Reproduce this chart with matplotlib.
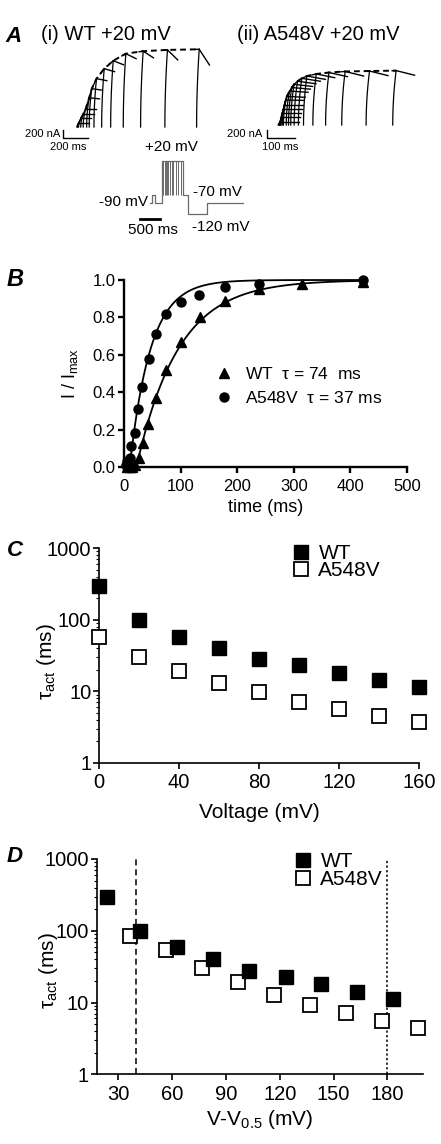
import numpy as np
import matplotlib
matplotlib.use('Agg')
import matplotlib.pyplot as plt

plt.rcParams['font.family'] = ['Liberation Sans', 'DejaVu Sans']
plt.rcParams['mathtext.fontset'] = 'custom'
plt.rcParams['mathtext.rm'] = 'Liberation Sans'
plt.rcParams['mathtext.it'] = 'Liberation Sans:italic'
plt.rcParams['mathtext.default'] = 'regular'

# ---------------- data ----------------
# Panel A(i) WT current traces: end-of-pulse peak (ms, nA) and tail drop (nA)
wt_trace_t = [13, 31, 49, 68, 95, 115, 152, 212, 282, 380, 515, 704, 951]
wt_trace_I = [90, 210, 310, 440, 700, 920, 1160, 1400, 1590, 1760, 1820, 1850, 1865]
wt_tail_drop = [0, 0, 0, 0, 24, 36, 48, 72, 96, 120, 160, 240, 377]
# Panel A(ii) A548V current traces
mut_trace_t = [8, 12, 15, 18, 22, 26, 30, 40, 48, 56, 68, 83, 101, 134, 179, 236, 322, 416]
mut_trace_I = [80, 185, 280, 375, 480, 600, 685, 815, 900, 975, 1050, 1120, 1175,
               1225, 1260, 1285, 1295, 1305]
mut_tail_drop = [0, 0, 0, 0, 0, 10, 20, 30, 40, 50, 60, 70, 80, 90, 100, 110, 110, 110]
# Voltage protocol (ms, mV)
prot_t = [0, 57, 125, 292, 832, 957, 1417, 2332]
prot_v = [-90, -70, -90, 20, -70, -120, -90, -90]
pulse_ends = [332, 375, 400, 432, 457, 500, 542, 582, 650, 707, 767, 832]

# Panel B: normalised activation
wt_t = [5, 10, 14, 19, 27, 34, 43, 57, 75, 100, 134, 179, 238, 315, 422]
wt_y = [0.0, 0.0, 0.0, 0.01, 0.05, 0.13, 0.23, 0.37, 0.52, 0.67, 0.80, 0.89, 0.95, 0.98, 0.99]
mut_t = [3, 6, 10, 13, 19, 24, 32, 44, 56, 75, 100, 132, 179, 238, 422]
mut_y = [0.01, 0.03, 0.05, 0.11, 0.18, 0.31, 0.43, 0.58, 0.71, 0.82, 0.88, 0.92, 0.96, 0.98, 1.0]
tau_wt, delay_wt = 74, 22
tau_mut, delay_mut = 37, 10

# Panel C: tau_act vs voltage
volt = [0, 20, 40, 60, 80, 100, 120, 140, 160]
tauC_wt = [291, 99, 58, 40, 28, 23, 18.2, 14.4, 11.5]
tauC_mut = [57, 30, 19.2, 12.9, 9.7, 7.2, 5.6, 4.5, 3.75]

# Panel D: tau_act vs V - V0.5
dv_wt = [23.5, 42.4, 62.8, 82.6, 102.9, 123.3, 142.9, 163.1, 183.1]
tauD_wt = [299, 100, 59, 40, 27.8, 23, 18.1, 14.2, 11.3]
dv_mut = [36.5, 56.8, 76.5, 97, 116.8, 136.8, 157.2, 177, 197]
tauD_mut = [84.6, 54, 30, 19.6, 12.7, 9.25, 7.2, 5.5, 4.47]
vline_dashed = 40
vline_dotted = 180

# ---------------- figure ----------------
W, H = 441, 1144
fig = plt.figure(figsize=(W / 100, H / 100), dpi=100)


def rect(l, t, r, b):
    return [l / W, 1 - b / H, (r - l) / W, (b - t) / H]


def ftext(x, y, s, **kw):
    fig.text(x / W, 1 - y / H, s, **kw)


def draw_traces(ax, ts, Is, drops, off, leg, tail_len):
    prev_t, prev_I = 0.0, 0.0
    for t, I, d in zip(ts, Is, drops):
        u = np.linspace(0, 1, 30)
        o = min(off, 0.6 * t)
        ax.plot(t - o * (1 - u ** 2), I * u, color='k', lw=0.9)
        frac = min(1.0, leg / (t - prev_t))
        ax.plot([t - frac * (t - prev_t), t], [I - frac * (I - prev_I), I], color='k', lw=1.0)
        ax.plot([t, t + tail_len], [I, I - d], color='k', lw=1.0)
        prev_t, prev_I = t, I
    ax.plot([0] + list(ts), [0] + list(Is), color='k', lw=1.4, ls=(0, (3, 2)))


# ---- Panel A ----
ftext(5, 36, 'A', fontsize=16, fontweight='bold', fontstyle='italic', va='center')
ftext(41, 35, '(i) WT +20 mV', fontsize=14.5, va='center')
ftext(237, 35, '(ii) A548V +20 mV', fontsize=14.5, va='center')

axA1 = fig.add_axes(rect(40, 40, 215, 150))
axA1.axis('off')
axA1.set_xlim(-288, 1074)
axA1.set_ylim(-552, 2088)
draw_traces(axA1, wt_trace_t, wt_trace_I, wt_tail_drop, off=20, leg=31, tail_len=80)
axA1.plot([-111, -111, 89], [-71, -271, -271], color='k', lw=1.0)
ftext(60, 134, '200 nA', fontsize=8, ha='right', va='center')
ftext(68, 147, '200 ms', fontsize=8, ha='center', va='center')

axA2 = fig.add_axes(rect(230, 40, 440, 150))
axA2.axis('off')
axA2.set_xlim(-170.5, 570.8)
axA2.set_ylim(-600, 2040)
draw_traces(axA2, mut_trace_t, mut_trace_I, mut_tail_drop, off=12, leg=14, tail_len=65)
axA2.plot([-41, -41, 59], [-120, -319, -319], color='k', lw=1.0)
ftext(262, 134, '200 nA', fontsize=8, ha='right', va='center')
ftext(280, 147, '100 ms', fontsize=8, ha='center', va='center')

# protocol
axP = fig.add_axes(rect(100, 140, 260, 240))
axP.axis('off')
axP.set_xlim(-1250, 2750)
axP.set_ylim(-187.6, 74.1)
axP.plot(prot_t, prot_v, drawstyle='steps-post', color='#6a6a6a', lw=0.9)
axP.vlines(pulse_ends, -70, 20, color='#6a6a6a', lw=0.7)
axP.plot([-250, 250], [-132.7, -132.7], color='k', lw=2.0)
ftext(171, 147, '+20 mV', fontsize=11, ha='center', va='center')
ftext(148, 201.5, '-90 mV', fontsize=11, ha='right', va='center')
ftext(193, 191.5, '-70 mV', fontsize=11, ha='left', va='center')
ftext(192, 227, '-120 mV', fontsize=11, ha='left', va='center')
ftext(152.5, 230.5, '500 ms', fontsize=11, ha='center', va='center')


def style_axes(ax, lw, labelsize, xpad, ypad):
    for s in ['top', 'right']:
        ax.spines[s].set_visible(False)
    for s in ['left', 'bottom']:
        ax.spines[s].set_linewidth(lw)
    ax.tick_params(which='major', direction='out', length=4.5, width=lw,
                   labelsize=labelsize, colors='k')
    ax.tick_params(axis='x', pad=xpad)
    ax.tick_params(axis='y', pad=ypad)


# ---- Panel B ----
ftext(7, 279, 'B', fontsize=17, fontweight='bold', fontstyle='italic', va='center')
axB = fig.add_axes(rect(124, 280, 407, 467))
tf_wt = np.linspace(delay_wt, 422, 300)
tf_mut = np.linspace(delay_mut, 422, 300)
axB.plot(tf_wt, 1 - np.exp(-(tf_wt - delay_wt) / tau_wt), color='k', lw=1.3, clip_on=False)
axB.plot(tf_mut, 1 - np.exp(-(tf_mut - delay_mut) / tau_mut), color='k', lw=1.3, clip_on=False)
axB.plot(wt_t, wt_y, ls='none', marker='^', ms=6.5, color='k', clip_on=False,
         label=r'WT  $\tau$ = 74  ms')
axB.plot(mut_t, mut_y, ls='none', marker='o', ms=6.5, color='k', clip_on=False,
         label=r'A548V  $\tau$ = 37 ms')
axB.set_xlim(0, 500)
axB.set_ylim(0, 1.0)
axB.set_xticks([0, 100, 200, 300, 400, 500])
axB.set_yticks([0.0, 0.2, 0.4, 0.6, 0.8, 1.0])
axB.set_yticklabels(['0.0', '0.2', '0.4', '0.6', '0.8', '1.0'])
style_axes(axB, 1.7, 12, 4, 1.5)
axB.set_xlabel('time (ms)', fontsize=13)
axB.xaxis.label.set_va('center')
axB.xaxis.set_label_coords(0.5, -0.219)
axB.set_ylabel(r'I / I$_{max}$', fontsize=13)
axB.yaxis.label.set_va('center')
axB.yaxis.set_label_coords(-0.19, 0.5)
axB.legend(loc='upper left', bbox_to_anchor=((215 - 124) / 283, (467 - 366) / 187),
           frameon=False, fontsize=12.5, handlelength=1.0, handletextpad=0.7,
           labelspacing=0.45, borderpad=0, borderaxespad=0, numpoints=1)

# ---- Panel C ----
ftext(7, 551, 'C', fontsize=16, fontweight='bold', fontstyle='italic', va='center')
axC = fig.add_axes(rect(99, 548, 419, 763))
axC.plot(volt, tauC_wt, ls='none', marker='s', ms=9.5, color='k', clip_on=False,
         label='WT', zorder=3)
axC.plot(volt, tauC_mut, ls='none', marker='s', ms=9.5, mfc='white', mec='k', mew=1.3,
         clip_on=False, label='A548V', zorder=3)
axC.set_yscale('log')
axC.set_ylim(1, 1000)
axC.set_xlim(0, 160)
axC.set_xticks([0, 40, 80, 120, 160])
axC.set_yticks([1, 10, 100, 1000])
axC.set_yticklabels(['1', '10', '100', '1000'])
axC.yaxis.set_minor_locator(matplotlib.ticker.LogLocator(base=10, subs=np.arange(2, 10)))
axC.yaxis.set_minor_formatter(matplotlib.ticker.NullFormatter())
style_axes(axC, 1.2, 14.5, 3, 1)
axC.tick_params(axis='y', which='minor', length=2.5, width=0.8)
axC.set_xlabel('Voltage (mV)', fontsize=15)
axC.xaxis.label.set_va('center')
axC.xaxis.set_label_coords(0.5, -0.231)
axC.set_ylabel(r'$\tau_{act}$ (ms)', fontsize=15)
axC.yaxis.label.set_va('center')
axC.yaxis.set_label_coords(-0.1625, 0.47)
axC.legend(loc='upper left', bbox_to_anchor=((293 - 99) / 320, (763 - 544) / 215),
           frameon=False, fontsize=15, handlelength=0.8, handletextpad=0.42,
           labelspacing=-0.1, borderpad=0, borderaxespad=0, numpoints=1)

# ---- Panel D ----
ftext(7, 857, 'D', fontsize=16, fontweight='bold', fontstyle='italic', va='center')
axD = fig.add_axes(rect(96.7, 859, 423.3, 1074.3))
axD.axvline(vline_dashed, color='k', lw=1.1, ls=(0, (4, 2.5)), zorder=1)
axD.axvline(vline_dotted, color='k', lw=1.1, ls=(0, (1.5, 1.5)), zorder=1)
axD.plot(dv_mut, tauD_mut, ls='none', marker='s', ms=9.5, mfc='white', mec='k', mew=1.3,
         clip_on=False, label='A548V', zorder=3)
axD.plot(dv_wt, tauD_wt, ls='none', marker='s', ms=9.5, color='k', clip_on=False,
         label='WT', zorder=4)
axD.set_yscale('log')
axD.set_ylim(1, 1000)
axD.set_xlim(18, 200)
axD.set_xticks([30, 60, 90, 120, 150, 180])
axD.set_yticks([1, 10, 100, 1000])
axD.set_yticklabels(['1', '10', '100', '1000'])
axD.yaxis.set_minor_locator(matplotlib.ticker.LogLocator(base=10, subs=np.arange(2, 10)))
axD.yaxis.set_minor_formatter(matplotlib.ticker.NullFormatter())
style_axes(axD, 1.2, 14.5, 3, 1)
axD.tick_params(axis='y', which='minor', length=2.5, width=0.8)
axD.set_xlabel(r'V-V$_{0.5}$ (mV)', fontsize=15)
axD.xaxis.label.set_va('center')
axD.xaxis.set_label_coords(0.5, -0.212)
axD.set_ylabel(r'$\tau_{act}$ (ms)', fontsize=15)
axD.yaxis.label.set_va('center')
axD.yaxis.set_label_coords(-0.149, 0.48)
hD, lD = axD.get_legend_handles_labels()
axD.legend(hD[::-1], lD[::-1], loc='upper left',
           bbox_to_anchor=((295 - 96.7) / 326.6, (1074.3 - 852) / 215.3),
           frameon=False, fontsize=15, handlelength=0.8, handletextpad=0.42,
           labelspacing=-0.05, borderpad=0, borderaxespad=0, numpoints=1)

fig.savefig('out.png', dpi=100)
